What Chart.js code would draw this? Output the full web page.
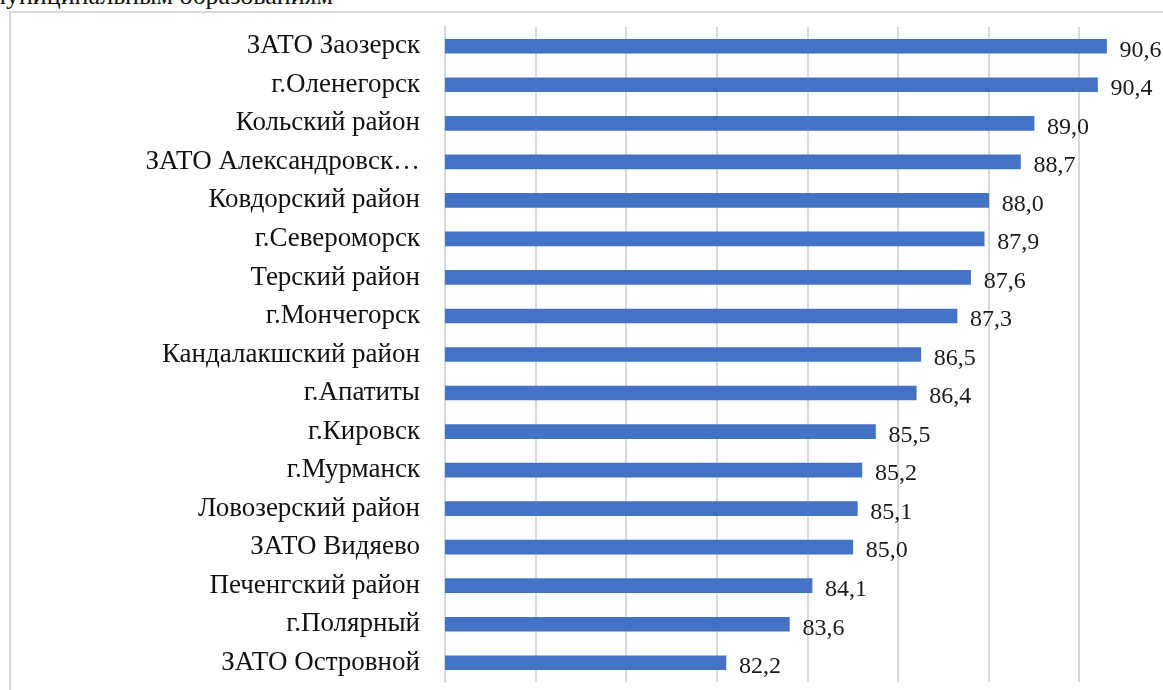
<!DOCTYPE html>
<html>
<head>
<meta charset="utf-8">
<script src="https://cdn.jsdelivr.net/npm/chart.js@4/dist/chart.umd.min.js"></script>
<style>
  html, body { margin: 0; padding: 0; background: #fff; overflow: hidden; }
  body { width: 1163px; height: 690px; position: relative; }
  .caption {
    position: absolute; right: calc(100% - 333px); top: -17px;
    font: 26px "Liberation Serif", "Times New Roman", serif; color: #111;
    white-space: nowrap; line-height: 26px;
  }
  .frame {
    position: absolute; left: 9px; top: 11px; width: 1300px; height: 760px;
    border: 2px solid #d9d9d9; box-sizing: border-box;
  }
  .wrap { position: absolute; left: 0; top: 0; width: 1250px; height: 720px; }
</style>
</head>
<body>
<div class="caption">по муниципальным образованиям</div>
<div class="frame"></div>
<div class="wrap"><canvas id="bars" width="1250" height="720"></canvas></div>
<script>
// --- data ---
const districts = [
  'ЗАТО Заозерск', 'г.Оленегорск', 'Кольский район', 'ЗАТО Александровск…',
  'Ковдорский район', 'г.Североморск', 'Терский район', 'г.Мончегорск',
  'Кандалакшский район', 'г.Апатиты', 'г.Кировск', 'г.Мурманск',
  'Ловозерский район', 'ЗАТО Видяево', 'Печенгский район', 'г.Полярный',
  'ЗАТО Островной'
];
const scores = [90.6, 90.4, 89.0, 88.7, 88.0, 87.9, 87.6, 87.3, 86.5, 86.4,
                85.5, 85.2, 85.1, 85.0, 84.1, 83.6, 82.2];
const axisMin = 76;
const axisMax = 92;
const axisStep = 2;

const serif = '"Liberation Serif", "Times New Roman", serif';

// value labels to the right of every bar
const valueLabels = {
  id: 'valueLabels',
  afterDatasetsDraw(chart) {
    const ctx = chart.ctx;
    const meta = chart.getDatasetMeta(0);
    ctx.save();
    ctx.font = '24px ' + serif;
    ctx.fillStyle = '#1a1a1a';
    ctx.textAlign = 'left';
    ctx.textBaseline = 'middle';
    meta.data.forEach((bar, i) => {
      const txt = scores[i].toFixed(1).replace('.', ',');
      ctx.fillText(txt, bar.x + 13, bar.y + 4);
    });
    ctx.restore();
  }
};

new Chart(document.getElementById('bars'), {
  type: 'bar',
  data: {
    labels: districts,
    datasets: [{
      data: scores,
      backgroundColor: '#4472C4',
      borderWidth: 0,
      barThickness: 14
    }]
  },
  options: {
    indexAxis: 'y',
    responsive: false,
    animation: false,
    layout: { padding: { left: 10, top: 27, right: 80, bottom: 38 } },
    plugins: { legend: { display: false }, tooltip: { enabled: false } },
    scales: {
      x: {
        min: axisMin, max: axisMax,
        ticks: { display: false, stepSize: axisStep },
        grid: { color: '#d9d9d9', lineWidth: 2, drawTicks: false },
        border: { display: false },
        afterFit: (s) => { s.height = 0; }
      },
      y: {
        ticks: { color: '#111', font: { family: serif, size: 27 }, padding: 25, autoSkip: false },
        grid: { display: false, drawTicks: false },
        border: { color: '#d9d9d9', width: 2 },
        // fixed label column; drop the extra top/bottom room the tick padding asks for
        afterFit: (s) => { s.width = 435; s.paddingTop = 0; s.paddingBottom = 0; }
      }
    }
  },
  plugins: [valueLabels]
});
</script>
</body>
</html>
